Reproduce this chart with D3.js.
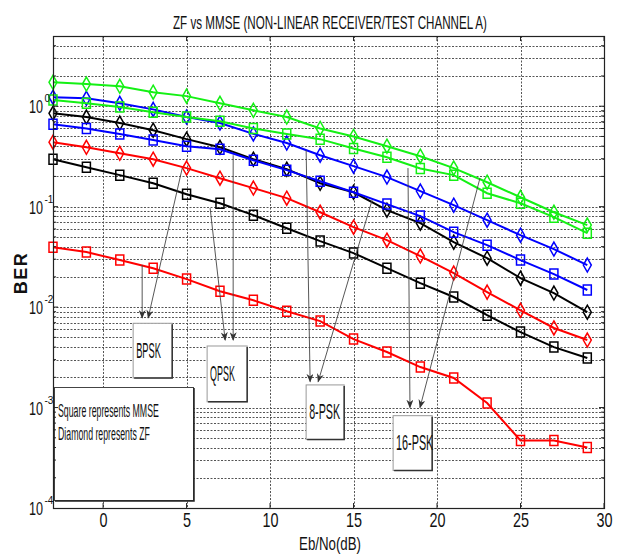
<!DOCTYPE html>
<html>
<head>
<meta charset="utf-8">
<script src="https://cdn.jsdelivr.net/npm/d3@7"></script>
<style>
body { margin: 0; background: #fff; }
svg { display: block; }
text { font-family: "Liberation Sans Narrow", "Liberation Sans", Arial, sans-serif; fill: #111; }
</style>
</head>
<body>
<svg width="621" height="554"></svg>
<script>
// Eb/No points (dB)
const ebno = [-3, -1, 1, 3, 5, 7, 9, 11, 13, 15, 17, 19, 21, 23, 25, 27, 29];

// BER, diamond = ZF, square = MMSE
const zf16psk   = [1.73, 1.66, 1.58, 1.38, 1.26, 1.07, 0.91, 0.78, 0.60, 0.50, 0.40, 0.318, 0.242, 0.175, 0.124, 0.088, 0.0655];
const mmse16psk = [1.15, 1.07, 0.98, 0.87, 0.78, 0.71, 0.60, 0.53, 0.47, 0.38, 0.31, 0.24, 0.206, 0.136, 0.108, 0.0786, 0.0545];
const zf8psk    = [1.23, 1.20, 1.07, 0.93, 0.78, 0.68, 0.53, 0.43, 0.325, 0.253, 0.197, 0.143, 0.1035, 0.0734, 0.052, 0.0378, 0.0262];
const mmse8psk  = [0.66, 0.60, 0.53, 0.46, 0.40, 0.373, 0.29, 0.231, 0.179, 0.139, 0.106, 0.0805, 0.0557, 0.0414, 0.0294, 0.0213, 0.0148];
const zfQpsk    = [0.85, 0.78, 0.68, 0.577, 0.47, 0.39, 0.297, 0.236, 0.171, 0.139, 0.0923, 0.0685, 0.0443, 0.0307, 0.0194, 0.0138, 0.0089];
const mmseQpsk  = [0.297, 0.247, 0.206, 0.171, 0.133, 0.108, 0.0823, 0.061, 0.0454, 0.0345, 0.0244, 0.0173, 0.0126, 0.0083, 0.00564, 0.0040, 0.00311];
const zfBpsk    = [0.438, 0.39, 0.34, 0.297, 0.242, 0.192, 0.153, 0.1215, 0.088, 0.0625, 0.0464, 0.0322, 0.0218, 0.0141, 0.0093, 0.0062, 0.0047];
const mmseBpsk  = [0.0395, 0.0353, 0.0294, 0.0244, 0.019, 0.0144, 0.0117, 0.0091, 0.00726, 0.0048, 0.00357, 0.00253, 0.00197, 0.00111, 0.00047, 0.00047, 0.00040];

const xTicks = [0, 5, 10, 15, 20, 25, 30];
const yTicks = [1e-4, 1e-3, 1e-2, 1e-1, 1];
const yExp = ["-4", "-3", "-2", "-1", "0"];

// text boxes with arrows, in data units
const notes = [
    { label: "BPSK", box: [1.8, 4.14, 0.0069, 0.00197],
      arrows: [[2.34, 0.0263, 2.34, 0.0078], [4.74, 0.242, 2.7, 0.0078]] },
    { label: "QPSK", box: [6.23, 8.63, 0.0041, 0.00114],
      arrows: [[6.41, 0.0967, 7.31, 0.0047], [7.79, 0.325, 7.79, 0.0047]] },
    { label: "8-PSK", box: [12.16, 14.44, 0.00168, 0.00048],
      arrows: [[12.16, 0.365, 12.4, 0.00181], [16.11, 0.116, 12.88, 0.00181]] },
    { label: "16-PSK", box: [17.37, 19.71, 0.00083, 0.000236],
      arrows: [[18.26, 0.242, 18.38, 0.001], [22.57, 0.192, 18.98, 0.001]] }
];

const series = [
    { values: mmseQpsk, color: "#000000", marker: "square" },
    { values: zfQpsk, color: "#000000", marker: "diamond" },
    { values: mmseBpsk, color: "#ff0000", marker: "square" },
    { values: zfBpsk, color: "#ff0000", marker: "diamond" },
    { values: mmse8psk, color: "#0000ff", marker: "square" },
    { values: zf8psk, color: "#0000ff", marker: "diamond" },
    { values: mmse16psk, color: "#14f014", marker: "square" },
    { values: zf16psk, color: "#14f014", marker: "diamond" }
];

const svg = d3.select("svg");
const pLeft = 53, pRight = 604, pTop = 36, pBottom = 508;

const x = d3.scaleLinear().domain([-3, 30]).range([pLeft, pRight]);
const y = d3.scaleLog().domain([1e-4, 5]).range([pBottom, pTop]);

// squeezed text: placed at (px, py), scaled in x to the given width
function narrowText(parent, str, px, py, size, width, anchor) {
    const t = parent.append("text")
        .attr("font-size", size)
        .attr("text-anchor", anchor || "start")
        .text(str);
    const w = t.node().getComputedTextLength();
    t.attr("transform", `translate(${px},${py}) scale(${width / w},1)`);
    return t;
}

// grid lines
const minor = [];
for (let k = -4; k <= 0; k++) {
    for (let m = 1; m <= 9; m++) {
        const v = m * Math.pow(10, k);
        if (v > 1e-4 && v < 5) minor.push(v);
    }
}
const grid = svg.append("g")
    .attr("stroke", "#555")
    .attr("stroke-width", 1)
    .attr("stroke-dasharray", "2,1.5");
grid.selectAll(".gy")
    .data(minor)
    .enter()
    .append("line")
    .attr("x1", pLeft).attr("x2", pRight)
    .attr("y1", d => Math.round(y(d)) + 0.5)
    .attr("y2", d => Math.round(y(d)) + 0.5);
grid.selectAll(".gx")
    .data(xTicks.filter(d => d < 30))
    .enter()
    .append("line")
    .attr("y1", pTop).attr("y2", pBottom)
    .attr("x1", d => Math.round(x(d)) + 0.5)
    .attr("x2", d => Math.round(x(d)) + 0.5);

// curves
const line = d3.line()
    .x((d, i) => x(ebno[i]))
    .y(d => y(d));

const diamond = "M0,-7L4,0L0,7L-4,0Z";
const square = "M-4,-5H4V5H-4Z";

series.forEach(s => {
    const g = svg.append("g");
    g.append("path")
        .attr("d", line(s.values))
        .attr("fill", "none")
        .attr("stroke", s.color)
        .attr("stroke-width", 2);
    g.selectAll("path.m")
        .data(s.values)
        .enter()
        .append("path")
        .attr("class", "m")
        .attr("transform", (d, i) => `translate(${x(ebno[i])},${y(d)})`)
        .attr("d", s.marker == "diamond" ? diamond : square)
        .attr("fill", "none")
        .attr("stroke", s.color)
        .attr("stroke-width", 1.5);
});

// arrow head
svg.append("defs").append("marker")
    .attr("id", "head")
    .attr("viewBox", "0 0 10 8")
    .attr("refX", 9).attr("refY", 4)
    .attr("markerWidth", 9).attr("markerHeight", 7)
    .attr("markerUnits", "userSpaceOnUse")
    .attr("orient", "auto")
    .append("path")
    .attr("d", "M0,0L10,4L0,8L3,4Z")
    .attr("fill", "#333");

// annotations
notes.forEach(n => {
    const g = svg.append("g");
    n.arrows.forEach(a => {
        g.append("line")
            .attr("x1", x(a[0])).attr("y1", y(a[1]))
            .attr("x2", x(a[2])).attr("y2", y(a[3]))
            .attr("stroke", "#444")
            .attr("stroke-width", 0.9)
            .attr("marker-end", "url(#head)");
    });
    const bx = x(n.box[0]), bw = x(n.box[1]) - bx;
    const by = y(n.box[2]), bh = y(n.box[3]) - by;
    g.append("rect")
        .attr("x", bx).attr("y", by)
        .attr("width", bw).attr("height", bh)
        .attr("fill", "#fff")
        .attr("stroke", "#999");
    g.append("path")
        .attr("d", `M${bx + bw},${by + 1}V${by + bh}H${bx + 1}`)
        .attr("fill", "none")
        .attr("stroke", "#333")
        .attr("stroke-width", 1.5);
    narrowText(g, n.label, bx + 3, by + bh * 0.5 + 7, 22, n.label.length * 6.2);
});

// legend box
const legend = svg.append("g");
legend.append("rect")
    .attr("x", 54.5).attr("y", 387.5)
    .attr("width", 139).attr("height", 113)
    .attr("fill", "#fff")
    .attr("stroke", "#444");
legend.append("path")
    .attr("d", "M194,388V501H55")
    .attr("fill", "none")
    .attr("stroke", "#222")
    .attr("stroke-width", 1.5);
narrowText(legend, "Square represents MMSE", 58, 417, 19, 101);
narrowText(legend, "Diamond represents ZF", 58, 440, 19, 92);

// frame
svg.append("rect")
    .attr("x", pLeft + 0.5).attr("y", pTop + 0.5)
    .attr("width", pRight - pLeft).attr("height", pBottom - pTop)
    .attr("fill", "none")
    .attr("stroke", "#222")
    .attr("stroke-width", 1.2);

// ticks pointing inward
const ticks = svg.append("g").attr("stroke", "#222");
xTicks.forEach(t => {
    ticks.append("line").attr("x1", x(t)).attr("x2", x(t)).attr("y1", pBottom).attr("y2", pBottom - 5);
    ticks.append("line").attr("x1", x(t)).attr("x2", x(t)).attr("y1", pTop).attr("y2", pTop + 5);
});
minor.forEach(v => {
    const len = yTicks.includes(v) ? 5 : 3;
    ticks.append("line").attr("x1", pLeft).attr("x2", pLeft + len).attr("y1", y(v)).attr("y2", y(v));
    ticks.append("line").attr("x1", pRight).attr("x2", pRight - len).attr("y1", y(v)).attr("y2", y(v));
});

// axis labels (d3 axis, domain hidden)
const xAxis = svg.append("g")
    .attr("transform", `translate(0,${pBottom})`)
    .call(d3.axisBottom(x).tickValues(xTicks).tickSize(0).tickPadding(5).tickFormat(d3.format("d")));
xAxis.select(".domain").remove();
xAxis.selectAll("text")
    .attr("font-size", 20)
    .attr("font-family", "Liberation Sans Narrow, Liberation Sans, Arial, sans-serif")
    .attr("fill", "#111")
    .attr("transform", "scale(0.72,1)");

const yAxis = svg.append("g");
yTicks.forEach((t, i) => {
    narrowText(yAxis, "10", 29, y(t) + 7, 19, 14);
    yAxis.append("text")
        .attr("x", 44.5).attr("y", y(t) - 4)
        .attr("font-size", 10)
        .text(yExp[i]);
});

// titles
narrowText(svg, "ZF vs MMSE (NON-LINEAR RECEIVER/TEST CHANNEL A)", 330, 29, 19, 314, "middle");
narrowText(svg, "Eb/No(dB)", 330, 550, 19, 62, "middle");

svg.append("text")
    .attr("transform", "translate(27,273) rotate(-90)")
    .attr("text-anchor", "middle")
    .attr("font-size", 18)
    .attr("font-weight", "bold")
    .attr("letter-spacing", 1.5)
    .text("BER");
</script>
</body>
</html>
